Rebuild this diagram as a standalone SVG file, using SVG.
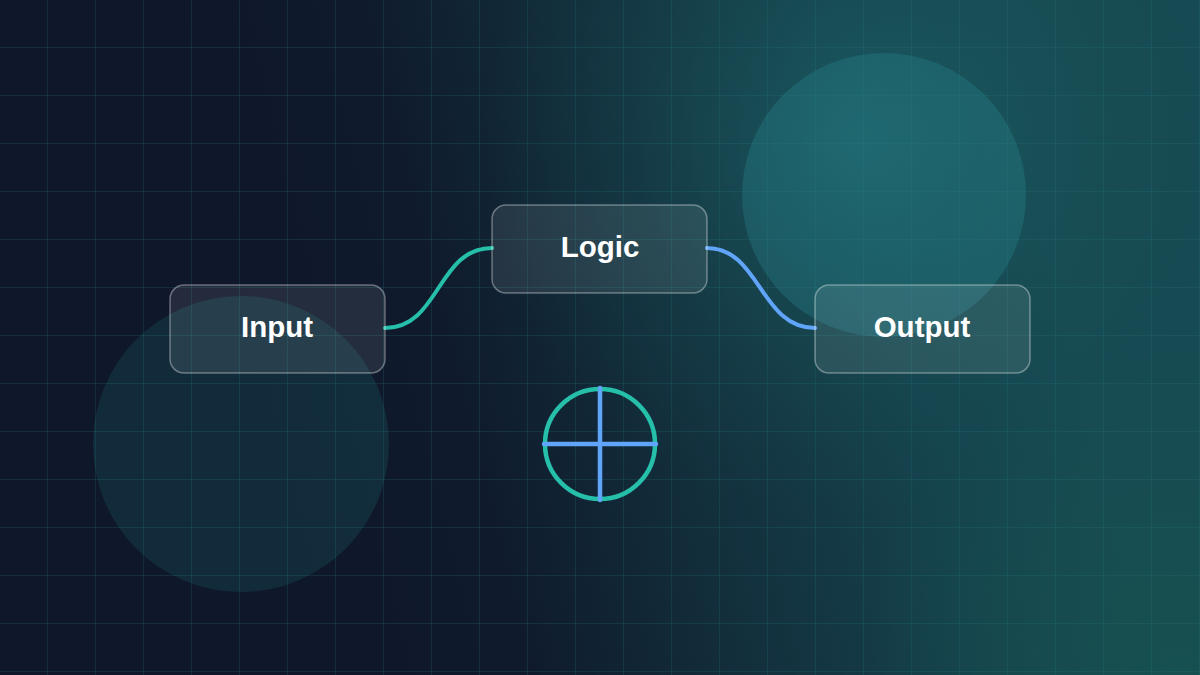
<svg xmlns="http://www.w3.org/2000/svg" width="1200" height="675" viewBox="0 0 1200 675">
<defs>
<linearGradient id="bg" x1="250" y1="450" x2="1050" y2="250" gradientUnits="userSpaceOnUse">
<stop offset="0" stop-color="#0f172a"/>
<stop offset="0.25" stop-color="#0f1a2c"/>
<stop offset="0.55" stop-color="#13313e"/>
<stop offset="0.8" stop-color="#15434d"/>
<stop offset="1" stop-color="#174b53"/>
</linearGradient>
<radialGradient id="glow1" cx="860" cy="140" r="380" gradientUnits="userSpaceOnUse">
<stop offset="0" stop-color="#1d646b" stop-opacity="0.7"/>
<stop offset="0.6" stop-color="#195358" stop-opacity="0.25"/>
<stop offset="1" stop-color="#174c54" stop-opacity="0"/>
</radialGradient>
<radialGradient id="glow2" cx="1180" cy="670" r="320" gradientUnits="userSpaceOnUse">
<stop offset="0" stop-color="#17524f" stop-opacity="0.7"/>
<stop offset="1" stop-color="#17524f" stop-opacity="0"/>
</radialGradient>
<pattern id="grid" width="48" height="48" patternUnits="userSpaceOnUse">
<path d="M48 0V48M0 48H48" fill="none" stroke="#21787a" stroke-opacity="0.45" stroke-width="1"/>
</pattern>
<style>
.node rect{fill:#ffffff;fill-opacity:0.09;stroke:#ffffff;stroke-opacity:0.35;stroke-width:1.5}
.node text{font-family:"Liberation Sans",Arial,sans-serif;font-weight:700;font-size:29.5px;fill:#ffffff;text-anchor:middle}
.edge{fill:none;stroke-width:4;stroke-linecap:round}
</style>
</defs>
<rect width="1200" height="675" fill="url(#bg)"/>
<rect width="1200" height="675" fill="url(#glow1)"/>
<rect width="1200" height="675" fill="url(#glow2)"/>
<rect width="1200" height="675" fill="url(#grid)"/>
<circle cx="884" cy="195" r="142" fill="#2a8a96" fill-opacity="0.3"/>
<circle cx="241" cy="444" r="148" fill="#1f8a8a" fill-opacity="0.18"/>
<g id="connectors">
<path class="edge" stroke="#26bfa9" d="M385 328C440 328 437 248 492 248"/>
<path class="edge" stroke="#60a5fa" d="M707 248C760 248 760 328 815 328"/>
</g>
<g id="node-input" class="node">
<rect x="170" y="285" width="215" height="88" rx="14"/>
<text x="277" y="337">Input</text>
</g>
<g id="node-logic" class="node">
<rect x="492" y="205" width="215" height="88" rx="14"/>
<text x="600" y="257">Logic</text>
</g>
<g id="node-output" class="node">
<rect x="815" y="285" width="215" height="88" rx="14"/>
<text x="922" y="337">Output</text>
</g>
<g id="symbol">
<circle cx="600" cy="444" r="55" fill="none" stroke="#26bfa9" stroke-width="4.5"/>
<path d="M544 444H656M600 388V500" stroke="#60a5fa" stroke-width="4.5" stroke-linecap="round" fill="none"/>
</g>
</svg>
